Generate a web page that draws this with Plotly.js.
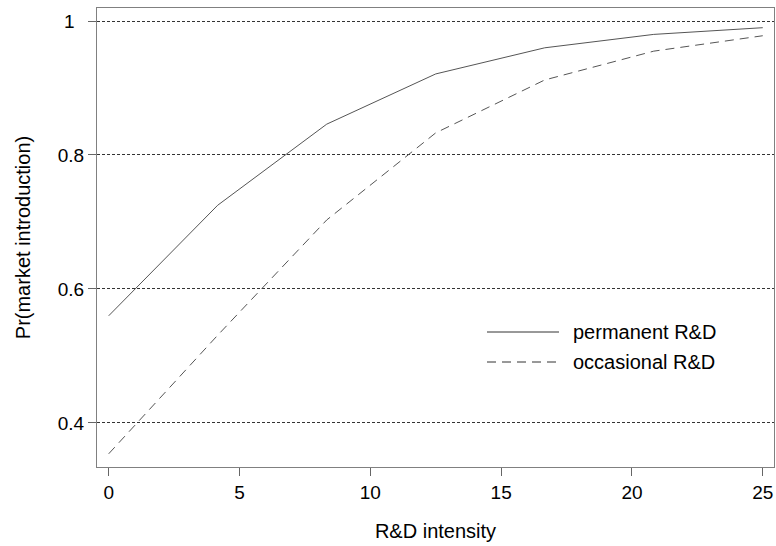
<!DOCTYPE html>
<html>
<head>
<meta charset="utf-8">
<script src="https://cdn.plot.ly/plotly-3.0.1.min.js"></script>
<style>html,body{margin:0;padding:0;background:#fff;}#chart{width:776px;height:546px;}</style>
</head>
<body>
<div id="chart"></div>
<script>
const rdIntensity = [0, 4.1667, 8.3333, 12.5, 16.6667, 20.8333, 25];
const permanentRD = [0.560, 0.725, 0.846, 0.921, 0.960, 0.980, 0.990];
const occasionalRD = [0.354, 0.531, 0.703, 0.833, 0.912, 0.955, 0.978];
const seriesNames = ["permanent R&D", "occasional R&D"];
const xTicks = [0, 5, 10, 15, 20, 25];
const yTicks = [0.4, 0.6, 0.8, 1];
const yTickText = ["0.4", "0.6", "0.8", "1\u2002"];

const font = {family: "Liberation Sans, Arial, sans-serif", size: 19, color: "#000"};
const bigFont = {family: "Liberation Sans, Arial, sans-serif", size: 20, color: "#000"};

const traces = [
  {x: rdIntensity, y: permanentRD, name: seriesNames[0], type: "scatter", mode: "lines",
   line: {color: "#555", width: 1, dash: "solid"}, showlegend: false, hoverinfo: "skip"},
  {x: rdIntensity, y: occasionalRD, name: seriesNames[1], type: "scatter", mode: "lines",
   line: {color: "#555", width: 1, dash: "9px,6px"}, showlegend: false, hoverinfo: "skip"}
];

// legend drawn in paper coordinates
const legX0 = (487 - 97) / (774 - 97), legX1 = (559 - 97) / (774 - 97), legTx = (571 - 97) / (774 - 97);
const legY = [1 - (332 - 8) / (467 - 8), 1 - (362 - 8) / (467 - 8)];
const shapes = [
  {type: "line", xref: "paper", yref: "paper", x0: legX0, x1: legX1, y0: legY[0], y1: legY[0],
   line: {color: "#333", width: 1}},
  {type: "line", xref: "paper", yref: "paper", x0: legX0, x1: legX1, y0: legY[1], y1: legY[1],
   line: {color: "#333", width: 1, dash: "9px,6px"}}
];
const annotations = seriesNames.map((n, i) => ({
  text: n, xref: "paper", yref: "paper", x: legTx, y: legY[i], xanchor: "left", yanchor: "middle",
  showarrow: false, font: bigFont
}));

const layout = {
  width: 776, height: 546,
  margin: {l: 97, r: 2, t: 8, b: 79, pad: 0},
  paper_bgcolor: "#fff", plot_bgcolor: "#fff",
  font: font,
  showlegend: false,
  xaxis: {
    range: [-0.447, 25.43], tickvals: xTicks, ticks: "outside", ticklen: 8, tickcolor: "#666",
    showgrid: false, zeroline: false, showline: true, linecolor: "#808080", linewidth: 1, mirror: true,
    tickfont: font, title: {text: "R&D intensity", font: bigFont, standoff: 22}
  },
  yaxis: {
    range: [0.3343, 1.0194], tickvals: yTicks, ticktext: yTickText, ticks: "outside", ticklen: 8, tickcolor: "#666",
    showgrid: true, gridcolor: "#333", griddash: "3px,2px", gridwidth: 1,
    zeroline: false, showline: true, linecolor: "#808080", linewidth: 1, mirror: true,
    tickfont: font, title: {text: "Pr(market introduction)", font: bigFont, standoff: 21}
  },
  shapes: shapes,
  annotations: annotations
};

Plotly.newPlot("chart", traces, layout, {displayModeBar: false, staticPlot: true});
</script>
</body>
</html>
